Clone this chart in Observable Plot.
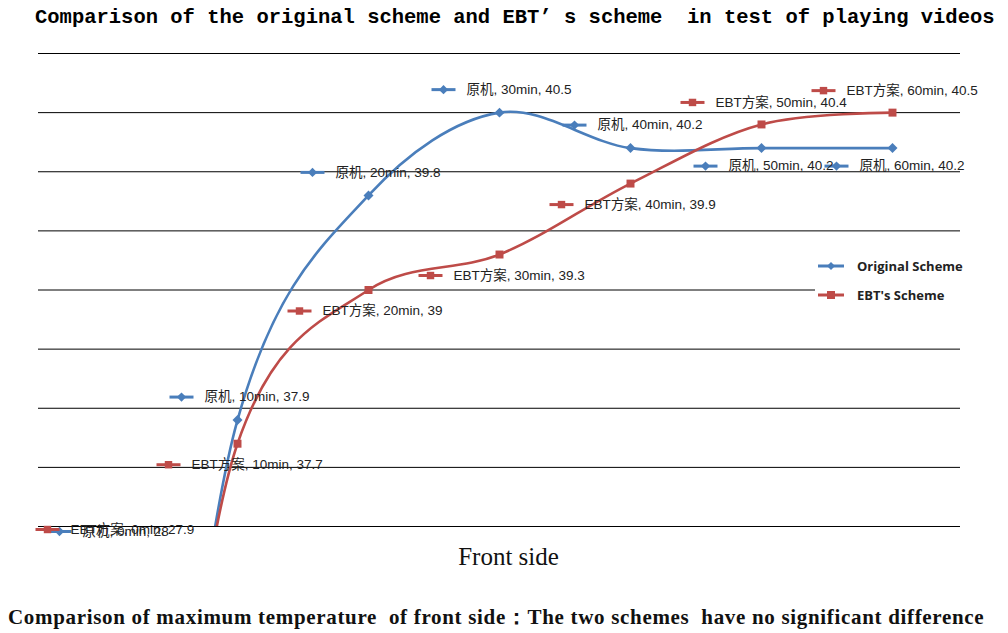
<!DOCTYPE html>
<html>
<head>
<meta charset="utf-8">
<script src="https://cdn.jsdelivr.net/npm/d3@7"></script>
<script src="https://cdn.jsdelivr.net/npm/@observablehq/plot@0.6"></script>
<style>
  html, body { margin: 0; padding: 0; background: #fff; }
  #wrap { position: relative; width: 1008px; height: 633px; overflow: hidden; }
  #title { position: absolute; left: 35px; top: 6px; font-family: "Liberation Mono", "DejaVu Sans Mono", monospace; font-weight: bold; font-size: 20.5px; color: #000; white-space: pre; }
  #chart { position: absolute; left: 0; top: 33px; }
  #caption { position: absolute; left: 8px; top: 603px; font-family: "Liberation Serif", "DejaVu Serif", serif; font-weight: bold; font-size: 21px; letter-spacing: 0.68px; color: #111; white-space: pre; }
  #legend { position: absolute; left: 815px; top: 252px; width: 150px; height: 58px; background: #fff; font-family: "Open Sans", "Liberation Sans", sans-serif; font-weight: bold; font-size: 13px; color: #222; overflow: visible; }
  .li { position: absolute; left: 0; height: 20px; display: flex; align-items: center; white-space: nowrap; }
  .li svg { margin-right: 10px; }
</style>
</head>
<body>
<div id="wrap">
  <div id="title"></div>
  <div id="chart"></div>
  <div id="legend"></div>
  <div id="caption"></div>
</div>
<script>
// ---- data ----
const times = ["0min", "10min", "20min", "30min", "40min", "50min", "60min"];
const originalValues = [28, 37.9, 39.8, 40.5, 40.2, 40.2, 40.2];
const ebtValues = [27.9, 37.7, 39, 39.3, 39.9, 40.4, 40.5];
const seriesNames = ["Original Scheme", "EBT's Scheme"];
const labelPrefixes = ["原机", "EBT方案"];
const yTicks = [37, 37.5, 38, 38.5, 39, 39.5, 40, 40.5, 41];
const titleText = "Comparison of the original scheme and EBT’ s scheme  in test of playing videos";
const xTitle = "Front side";
const captionText = "Comparison of maximum temperature  of front side：The two schemes  have no significant difference";

const colors = ["#4a7ebb", "#be4b48"];
const yMin = yTicks[0], yMax = yTicks[yTicks.length - 1];

const allValues = [originalValues, ebtValues];
const rows = [];
allValues.forEach((vals, s) => {
  vals.forEach((v, i) => {
    rows.push({
      series: seriesNames[s], s, prefix: labelPrefixes[s], t: times[i], v,
      other: allValues[1 - s][i]
    });
  });
});

// label placement (offsets in px relative to the data point)
rows.forEach(d => {
  const clamped = d.v < yMin;
  d.ly = clamped ? yMin : d.v;
  const above = d.v >= d.other;
  if (clamped) {
    d.dx = d.s === 0 ? -47 : -59;
    d.dy = d.s === 0 ? 5 : 3;
  } else {
    d.dx = d.s === 0 ? -56 : -69;
    d.dy = above ? (d.s === 0 ? -23 : -22) : (d.s === 0 ? 18 : 21);
  }
  d.key = d.dx + "|" + d.dy;
});

const keyLine = { draw(ctx) { ctx.moveTo(-12, 0); ctx.lineTo(12, 0); } };
const groups = d3.groups(rows, d => d.key);

const labelMarks = [];
for (const [, g] of groups) {
  const dx = g[0].dx, dy = g[0].dy;
  labelMarks.push(
    Plot.dot(g, { x: "t", y: "ly", symbol: keyLine, stroke: "series", strokeWidth: 3, fill: "none", r: 5, dx, dy }),
    Plot.dot(g, { x: "t", y: "ly", symbol: "series", fill: "series", r: 4.2, dx, dy }),
    Plot.text(g, {
      x: "t", y: "ly", text: d => `${d.prefix}, ${d.t}, ${d.v}`,
      dx: dx + 23, dy, textAnchor: "start", fontSize: 13.5, fill: "#222",
      fontFamily: "'Liberation Sans', 'Noto Sans CJK SC', sans-serif"
    })
  );
}

const plot = Plot.plot({
  width: 1008,
  height: 540,
  marginLeft: 38,
  marginRight: 48,
  marginTop: 20,
  marginBottom: 47,
  x: { type: "point", domain: times, padding: 0.5, axis: null },
  y: { domain: [yMin, yMax], axis: null },
  color: { domain: seriesNames, range: colors },
  symbol: { domain: seriesNames, range: ["diamond2", "square"] },
  style: { background: "transparent", overflow: "visible" },
  marks: [
    Plot.ruleY(yTicks, { stroke: "#000", strokeWidth: 1 }),
    Plot.line(rows, { x: "t", y: "v", z: "series", stroke: "series", strokeWidth: 2.6, curve: d3.curveCatmullRom.alpha(0.35), clip: true }),
    Plot.dot(rows.filter(d => d.v >= yMin), { x: "t", y: "v", symbol: "series", fill: "series", r: 4.5 }),
    ...labelMarks,
    Plot.text([xTitle], { frameAnchor: "bottom", dy: 38, dx: 9, fontSize: 25, fill: "#111", fontFamily: "'Liberation Serif', 'DejaVu Serif', serif" })
  ]
});
document.getElementById("chart").appendChild(plot);

document.getElementById("title").textContent = titleText;
document.getElementById("caption").textContent = captionText;

// legend
const legend = document.getElementById("legend");
const symbolPaths = [d3.symbol(d3.symbolDiamond2, 40)(), d3.symbol(d3.symbolSquare, 64)()];
seriesNames.forEach((name, i) => {
  const item = document.createElement("div");
  item.className = "li";
  item.style.top = (i === 0 ? 4 : 33) + "px";
  item.innerHTML = `<svg width="32" height="14"><line x1="3" x2="29" y1="7" y2="7" stroke="${colors[i]}" stroke-width="3"/><path transform="translate(16,7)" d="${symbolPaths[i]}" fill="${colors[i]}"/></svg><span>${name}</span>`;
  legend.appendChild(item);
});
</script>
</body>
</html>
